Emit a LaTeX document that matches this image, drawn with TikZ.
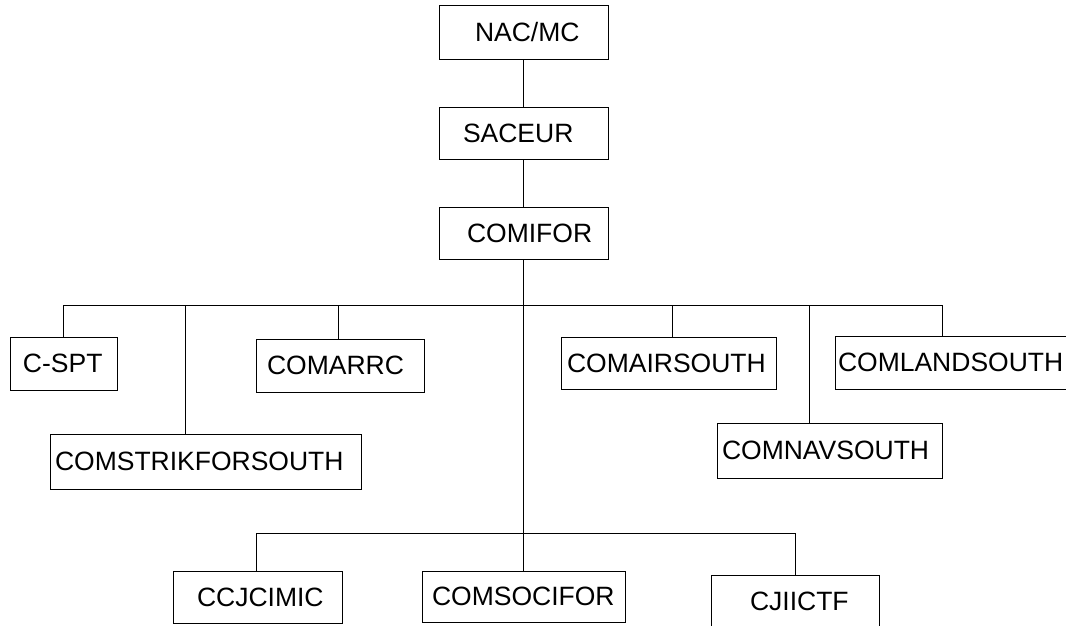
\documentclass[tikz,border=0pt]{standalone}
\usepackage{fontspec}
\setmainfont{Liberation Sans}
\begin{document}
\begin{tikzpicture}[x=1pt,y=-1pt,
  box/.style={draw,line width=1pt,inner ysep=0pt,align=left,
    font=\fontsize{26.5}{30}\selectfont},
  conn/.style={line width=1pt}]
\useasboundingbox (0,0) rectangle (1066,625);
\clip (0,0) rectangle (1066,625);
% boxes: text width = W - 2*pad, inner xsep = pad, minimum height = H
\node[box,text width=97pt,inner xsep=36pt,minimum height=54pt] (nac) at (523.5,32) {NAC/MC};
\node[box,text width=121pt,inner xsep=24pt,minimum height=52pt] (sac) at (523.5,133) {SACEUR};
\node[box,text width=113pt,inner xsep=28pt,minimum height=52pt] (com) at (523.5,233) {COMIFOR};
\node[box,text width=81pt,inner xsep=13pt,minimum height=53pt] (cspt) at (63.5,363.5) {C-SPT};
\node[box,text width=301pt,inner xsep=5pt,minimum height=55pt] (strik) at (205.5,461.5) {COMSTRIKFORSOUTH};
\node[box,text width=146pt,inner xsep=11pt,minimum height=53pt] (arrc) at (340,365.5) {COMARRC};
\node[box,text width=203pt,inner xsep=6pt,minimum height=52pt] (air) at (668.5,363) {COMAIRSOUTH};
\node[box,text width=215pt,inner xsep=5pt,minimum height=55pt] (nav) at (829.5,450.5) {COMNAVSOUTH};
\node[box,text width=249pt,inner xsep=3pt,minimum height=53pt] (land) at (962.5,362.5) {COMLANDSOUTH};
\node[box,text width=121pt,inner xsep=24pt,minimum height=52pt] (ccj) at (257.5,597) {CCJCIMIC};
\node[box,text width=183pt,inner xsep=10pt,minimum height=51pt] (soc) at (523.5,596.5) {COMSOCIFOR};
\node[box,text width=90pt,inner xsep=39pt,minimum height=52pt] (cji) at (795,601) {CJIICTF};
% junction points on the bars
\coordinate (jcspt) at (63,305);
\coordinate (jstrik) at (185,305);
\coordinate (jarrc) at (338,305);
\coordinate (jair) at (672,305);
\coordinate (jnav) at (809,305);
\coordinate (jland) at (942,305);
\coordinate (jccj) at (256,533);
\coordinate (jcji) at (795,533);
% connectors
\draw[conn] (nac) -- (sac);
\draw[conn] (sac) -- (com);
\draw[conn] (com) -- (soc);
\draw[conn] (jcspt) -- (jland);
\draw[conn] (jccj) -- (jcji);
\draw[conn] (jcspt) -- (jcspt |- cspt.north);
\draw[conn] (jstrik) -- (jstrik |- strik.north);
\draw[conn] (jarrc) -- (jarrc |- arrc.north);
\draw[conn] (jair) -- (jair |- air.north);
\draw[conn] (jnav) -- (jnav |- nav.north);
\draw[conn] (jland) -- (jland |- land.north);
\draw[conn] (jccj) -- (jccj |- ccj.north);
\draw[conn] (jcji) -- (jcji |- cji.north);
\end{tikzpicture}
\end{document}
